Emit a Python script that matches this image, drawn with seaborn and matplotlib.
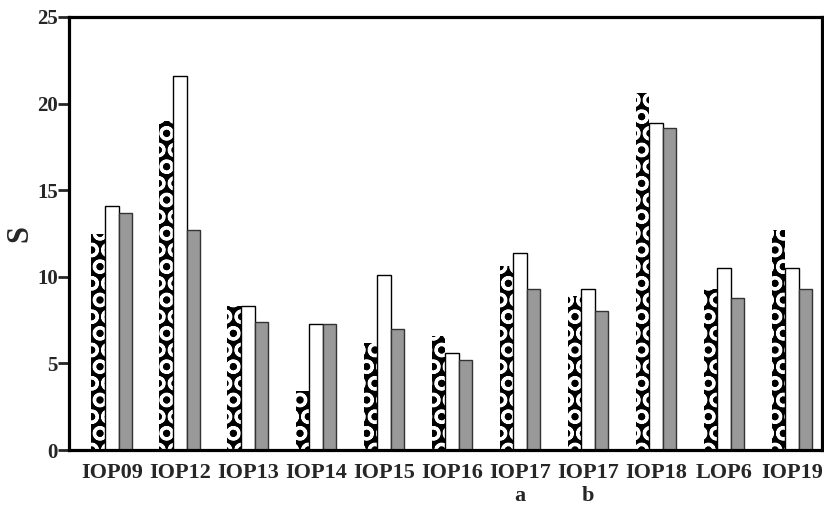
import pandas as pd
import numpy as np
import matplotlib
matplotlib.use('Agg')
import matplotlib.pyplot as plt
import seaborn as sns

categories = ['IOP09', 'IOP12', 'IOP13', 'IOP14', 'IOP15', 'IOP16',
              'IOP17\na', 'IOP17\nb', 'IOP18', 'LOP6', 'IOP19']
dotted_vals = [12.5, 19.0, 8.3, 3.4, 6.2, 6.6, 10.6, 8.9, 20.6, 9.3, 12.7]
white_vals = [14.1, 21.6, 8.3, 7.3, 10.1, 5.6, 11.4, 9.3, 18.9, 10.5, 10.5]
grey_vals = [13.7, 12.7, 7.4, 7.3, 7.0, 5.2, 9.3, 8.0, 18.6, 8.8, 9.3]
series = ['dotted', 'white', 'grey']
y_ticks = [0, 5, 10, 15, 20, 25]

df = pd.DataFrame({'site': categories, 'dotted': dotted_vals,
                   'white': white_vals, 'grey': grey_vals})
long_df = df.melt(id_vars='site', value_vars=series, var_name='kind', value_name='S')

sns.set_style('white')
plt.rcParams['font.family'] = ['Liberation Serif', 'DejaVu Serif']
plt.rcParams['font.weight'] = 'bold'
plt.rcParams['hatch.linewidth'] = 2.2

fig = plt.figure(figsize=(8.24, 5.07), dpi=100)
ax = fig.add_axes([69 / 824, 57 / 507, 753 / 824, 433 / 507])

sns.barplot(data=long_df, x='site', y='S', hue='kind', hue_order=series,
            order=categories, palette=['black', 'white', '#999999'],
            width=0.6, gap=0, saturation=1, legend=False, ax=ax)

# dotted look: black bars with white rings
for bar in ax.containers[0]:
    bar.set_facecolor('black')
    bar.set_edgecolor('white')
    bar.set_linewidth(0)
    bar.set_hatch('O')
for bar in ax.containers[1]:
    bar.set_edgecolor('black')
    bar.set_linewidth(1.0)
for bar in ax.containers[2]:
    bar.set_edgecolor('#333333')
    bar.set_linewidth(1.0)

ax.set_xlim(-0.63, 10.44)
ax.set_ylim(0, 25)
ax.set_yticks(y_ticks)
ax.set_yticklabels([str(t) for t in y_ticks], fontsize=15, fontweight='bold')
ax.tick_params(axis='y', direction='out', length=8, width=2, pad=0, left=True)
ax.tick_params(axis='x', length=0, pad=9, labelsize=16)
for lbl in ax.get_xticklabels():
    lbl.set_fontweight('bold')
    lbl.set_linespacing(1.25)

ax.set_xlabel('')
ax.set_ylabel('S', fontsize=22, fontweight='bold', labelpad=2)

for sp in ax.spines.values():
    sp.set_visible(True)
    sp.set_linewidth(2.3)
    sp.set_color('black')

fig.savefig('out.png', dpi=100)
